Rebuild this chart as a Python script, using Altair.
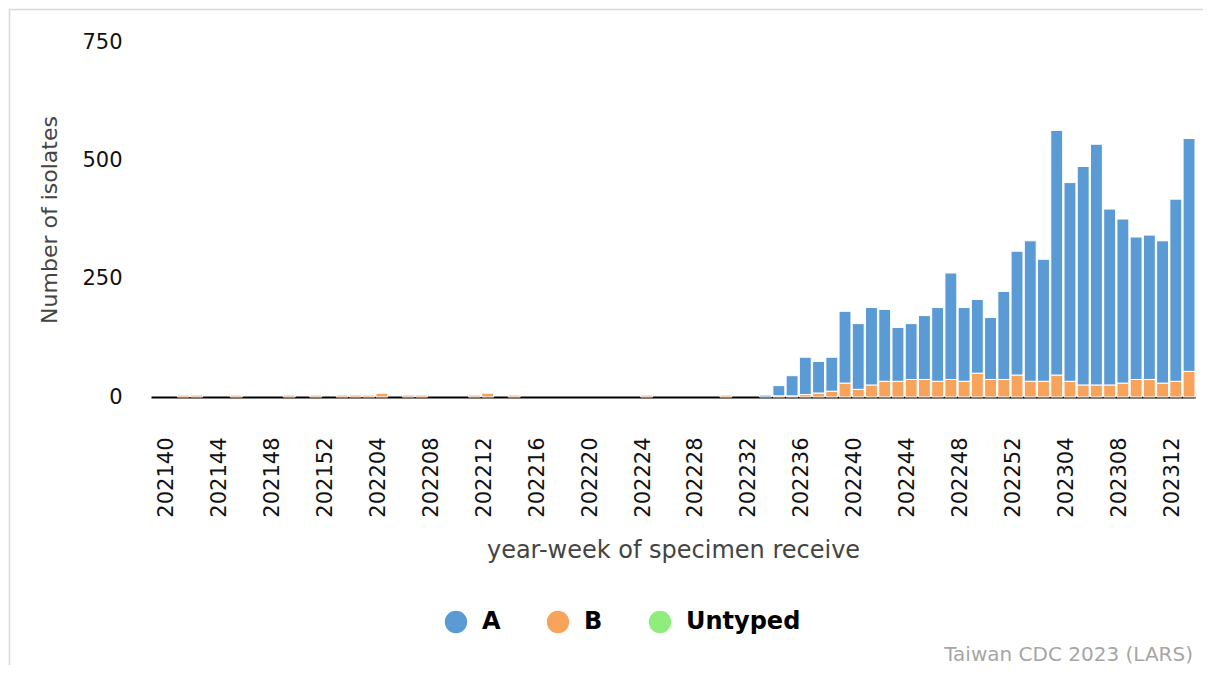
import altair as alt
import pandas as pd

# ---- data ----
weeks = ([f"2021{w:02d}" for w in range(40, 53)] +
         [f"2022{w:02d}" for w in range(1, 53)] +
         [f"2023{w:02d}" for w in range(1, 14)])

a_counts = [
    0, 0, 0, 0, 0, 0, 0, 0, 0, 0, 0, 0, 0,                      # 202140-202152
    0, 0, 0, 0, 0, 0, 0, 0, 0, 0, 0, 0, 0,                      # 202201-202213
    0, 0, 0, 0, 0, 0, 0, 0, 0, 0, 0, 0, 0,                      # 202214-202226
    0, 0, 0, 0, 0, 0, 4, 22, 43, 79, 67, 72, 152,               # 202227-202239
    139, 164, 152, 114, 118, 135, 156, 225, 156, 156, 131, 186, 262,  # 202240-202252
    297, 258, 517, 420, 462, 509, 372, 347, 301, 305, 301, 385, 492,  # 202301-202313
]
b_counts = [
    0, 4, 4, 0, 0, 4, 0, 0, 0, 4, 0, 4, 0,                      # 202140-202152
    4, 4, 4, 8, 0, 4, 4, 0, 0, 0, 4, 8, 0,                      # 202201-202213
    4, 0, 0, 0, 0, 0, 0, 0, 0, 0, 4, 0, 0,                      # 202214-202226
    0, 0, 0, 4, 0, 0, 0, 2, 2, 5, 8, 12, 29,                    # 202227-202239
    16, 25, 33, 33, 37, 37, 33, 37, 33, 50, 37, 37, 46,         # 202240-202252
    33, 33, 46, 33, 25, 25, 25, 29, 37, 37, 29, 33, 54,         # 202301-202313
]
untyped_counts = [0] * len(weeks)

types = ["A", "B", "Untyped"]
type_colors = ["#5B9BD5", "#F7A35C", "#90ED7D"]
stack_rank = {"B": 0, "Untyped": 1, "A": 2}

tick_weeks = weeks[::4]
y_ticks = [0, 250, 500, 750]

rows = []
for wk, a, b, u in zip(weeks, a_counts, b_counts, untyped_counts):
    for t, v in (("A", a), ("B", b), ("Untyped", u)):
        rows.append({"week": wk, "type": t, "count": v, "rank": stack_rank[t]})
df = pd.DataFrame(rows)

FONT = "DejaVu Sans"
W, H = 1044, 355
PAD = {"left": 143, "top": 34, "right": 8, "bottom": 268}

bars = alt.Chart(df).transform_filter(
    alt.datum.count > 0
).mark_bar(stroke="white", strokeWidth=1).encode(
    x=alt.X("week:O", sort=weeks,
            scale=alt.Scale(domain=weeks, paddingInner=0.1, paddingOuter=0.5, align=1),
            axis=alt.Axis(title="year-week of specimen receive", values=tick_weeks,
                          labelAngle=-90, labelFontSize=21, labelColor="#111",
                          labelPadding=40, labelOffset=-3, ticks=False, tickSize=0,
                          domainColor="#000", domainWidth=2,
                          titleFontSize=24, titleFontWeight="normal",
                          titleColor="#444", titlePadding=21)),
    y=alt.Y("count:Q", stack="zero",
            scale=alt.Scale(domain=[0, 750], nice=False),
            axis=alt.Axis(title="Number of isolates", values=y_ticks, grid=False,
                          domain=False, ticks=False, tickSize=0,
                          labelFontSize=21, labelColor="#111", labelPadding=29,
                          titleFontSize=22, titleFontWeight="normal",
                          titleColor="#444", titlePadding=20)),
    color=alt.Color("type:N",
                    scale=alt.Scale(domain=types, range=type_colors),
                    legend=alt.Legend(title=None, orient="none", direction="horizontal",
                                      legendX=293, legendY=568,
                                      symbolType="circle", symbolSize=500,
                                      symbolStrokeWidth=0, symbolOpacity=1,
                                      labelFontSize=24, labelFontWeight="bold",
                                      labelColor="#000", labelOffset=14,
                                      columnPadding=45, padding=0)),
    order=alt.Order("rank:Q", sort="ascending"),
)

caption = alt.Chart(pd.DataFrame({"t": ["Taiwan CDC 2023 (LARS)"]})).mark_text(
    align="right", baseline="middle", fontSize=20, color="#a6a6a6", font=FONT
).encode(text="t:N", x=alt.value(W - 2), y=alt.value(613))

# light frame along the top and left of the whole figure (kept inside the SVG)
edge = pd.DataFrame({"k": [0]})
frame_left = alt.Chart(edge).mark_rule(color="#d9d9d9", strokeWidth=1.5).encode(
    x=alt.value(-PAD["left"] + 1.5), y=alt.value(-PAD["top"] + 1),
    y2=alt.value(H + PAD["bottom"]))
frame_top = alt.Chart(edge).mark_rule(color="#d9d9d9", strokeWidth=1.5).encode(
    x=alt.value(-PAD["left"] + 1), x2=alt.value(W + PAD["right"]),
    y=alt.value(-PAD["top"] + 1.5))

chart = alt.layer(frame_left, frame_top, bars, caption).properties(
    width=W, height=H,
    autosize=alt.AutoSizeParams(type="none"),
    padding=PAD,
).configure(font=FONT).configure_view(strokeWidth=0)

chart.save("out.html", embed_options={"renderer": "svg", "actions": False})
